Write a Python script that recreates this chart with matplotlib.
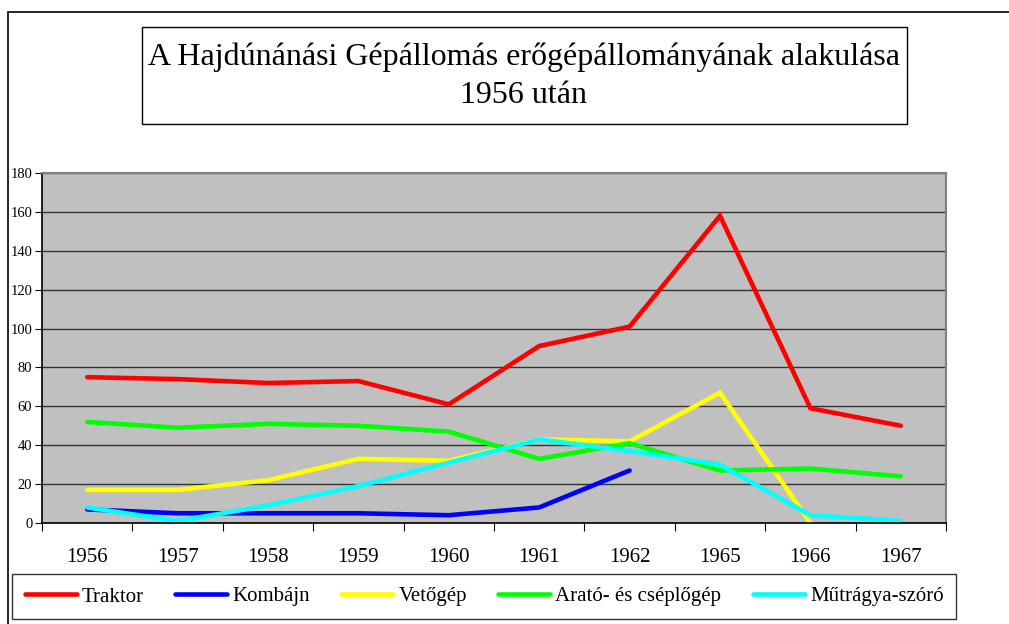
import numpy as np
import matplotlib.pyplot as plt
from matplotlib.patches import Rectangle

plt.rcParams['font.family'] = ['Liberation Serif', 'DejaVu Serif']

years = ['1956', '1957', '1958', '1959', '1960', '1961', '1962', '1965', '1966', '1967']
traktor = [75, 74, 72, 73, 61, 91, 101, 158, 59, 50]
kombajn = [7, 5, 5, 5, 4, 8, 27]
vetogep = [17, 17, 22, 33, 32, 43, 42, 67, 0]
arato = [52, 49, 51, 50, 47, 33, 41, 27, 28, 24]
mutragya = [8, 1, 9, 19, 31, 43, 37, 30, 4, 1]

series = [
    ('Traktor', traktor, '#FF0000'),
    ('Kombájn', kombajn, '#0000FF'),
    ('Vetőgép', vetogep, '#FFFF00'),
    ('Arató- és cséplőgép', arato, '#00FF00'),
    ('Műtrágya-szóró', mutragya, '#00FFFF'),
]

W, H = 1009, 624
fig = plt.figure(figsize=(W / 100, H / 100), dpi=100)

# outer chart frame (cut off at right and bottom)
fig.add_artist(Rectangle((8 / W, -0.1), 1.2, 1 - 12 / H + 0.1, transform=fig.transFigure,
                         fill=False, edgecolor='black', linewidth=1.2))

ax = fig.add_axes([42 / W, 1 - 523 / H, 904 / W, 350 / H])
ax.set_facecolor('#C0C0C0')

x = np.arange(len(years))
for name, vals, col in series:
    ax.plot(x[:len(vals)], vals, color=col, linewidth=3.3, label=name,
            solid_capstyle='round', solid_joinstyle='miter')

ax.set_xlim(-0.5, len(years) - 0.5)
ax.set_ylim(0, 180)
ax.set_yticks(np.arange(0, 181, 20))
ax.yaxis.grid(True, color='#333333', linewidth=1)
ax.set_axisbelow(True)

ax.set_xticks(np.arange(-0.5, len(years), 1))
ax.set_xticklabels([])
ax.set_xticks(x, minor=True)
ax.set_xticklabels(years, minor=True, fontsize=15)
ax.tick_params(axis='x', which='major', direction='out', length=6, color='black')
ax.tick_params(axis='x', which='minor', length=0, pad=18)
ax.tick_params(axis='y', direction='out', length=5, labelsize=10.5, pad=2)

for s in ['top', 'right']:
    ax.spines[s].set_color('#808080')
    ax.spines[s].set_linewidth(1.5)
for s in ['left', 'bottom']:
    ax.spines[s].set_color('black')
    ax.spines[s].set_linewidth(1.2)

# title in its own box
fig.add_artist(Rectangle((142 / W, 1 - 124 / H), 765 / W, 97 / H, transform=fig.transFigure,
                         fill=False, edgecolor='black', linewidth=1))
fig.text(524 / W, 1 - 76 / H, 'A Hajdúnánási Gépállomás erőgépállományának alakulása\n1956 után',
         ha='center', va='center', fontsize=23, linespacing=1.42)

leg = fig.legend(loc='lower left', bbox_to_anchor=(12 / W, 1 - 619 / H, 944 / W, 43 / H),
                 mode='expand', ncol=5, fontsize=15, frameon=True, fancybox=False,
                 edgecolor='black', handlelength=2.5, handletextpad=0.25, borderaxespad=0,
                 borderpad=0.6, columnspacing=1.0)
leg.get_frame().set_linewidth(1)

fig.savefig('out.png', dpi=100)
